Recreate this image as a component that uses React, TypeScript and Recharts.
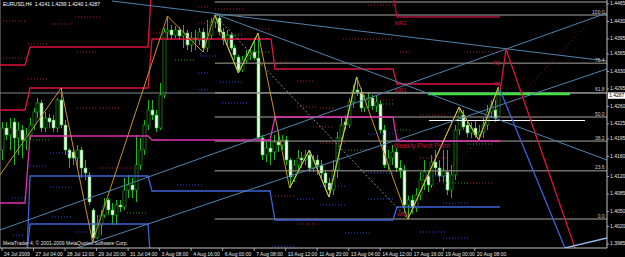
import React from 'react';
import { ComposedChart, Bar, Line, XAxis, YAxis, ReferenceLine, ReferenceDot } from 'recharts';

const W = 625;
const H = 257;
const AXIS_W = 18;
const AXIS_H = 9;
const PLOT_R = W - AXIS_W;
const PLOT_B = H - AXIS_H;
const X_DOMAIN: [number, number] = [-0.51, 153.55];
const Y_DOMAIN: [number, number] = [1.3977, 1.4473];
const FONT = '"Liberation Sans", Arial, sans-serif';
const AXIS_COLOR = '#c4c4c4';
const TEXT = '#e6e6e6';
const GREEN = '#22b422';
const CRIMSON = '#dc143c';
const MAGENTA = '#e030b0';
const ROYAL = '#3f63d8';
const STEEL = '#4f84ad';
const FIBC = '#a9a59b';

// ---- H4 candles (EURUSD) ----
const opens = [
  1.4173, 1.4217, 1.4203, 1.4229, 1.4197, 1.4213, 1.4193, 1.4203, 1.4223, 1.4249,
  1.4267, 1.4217, 1.4237, 1.4233, 1.4217, 1.4273, 1.4223, 1.4173, 1.4169, 1.4157,
  1.4173, 1.4137, 1.4123, 1.4053, 1.3997, 1.4023, 1.4043, 1.4073, 1.4053, 1.4043,
  1.4063, 1.4059, 1.4093, 1.4103, 1.4093, 1.4143, 1.4173, 1.4223, 1.4253, 1.4243,
  1.4217, 1.4283, 1.4409, 1.4413, 1.4403, 1.4413, 1.4401, 1.4407, 1.4383, 1.4397,
  1.4393, 1.4409, 1.4377, 1.4403, 1.4429, 1.4437, 1.4409, 1.4393, 1.4403, 1.4377,
  1.4359, 1.4333, 1.4353, 1.4363, 1.4369, 1.4357, 1.4197, 1.4163, 1.4177, 1.4169,
  1.4189, 1.4183, 1.4193, 1.4153, 1.4119, 1.4143, 1.4157, 1.4153, 1.4163, 1.4137,
  1.4153, 1.4143, 1.4127, 1.4107, 1.4093, 1.4133, 1.4197, 1.4229, 1.4223, 1.4269,
  1.4293, 1.4289, 1.4257, 1.4273, 1.4277, 1.4261, 1.4265, 1.4213, 1.4143, 1.4157,
  1.4169, 1.4137, 1.4133, 1.4063, 1.4073, 1.4057, 1.4083, 1.4113, 1.4121, 1.4103,
  1.4149, 1.4137, 1.4121, 1.4129, 1.4093, 1.4123, 1.4213, 1.4243, 1.4223, 1.4207,
  1.4217, 1.4203, 1.4209, 1.4223, 1.4249, 1.4253, 1.4241,
];
const highs = [
  1.4229, 1.4229, 1.4237, 1.4237, 1.4229, 1.4223, 1.4217, 1.4237, 1.4257, 1.4277,
  1.4273, 1.4249, 1.4245, 1.4243, 1.4277, 1.4297, 1.4233, 1.4177, 1.4177, 1.4183,
  1.4179, 1.4153, 1.4129, 1.4057, 1.4043, 1.4053, 1.4077, 1.4077, 1.4067, 1.4073,
  1.4073, 1.4117, 1.4123, 1.4117, 1.4203, 1.4197, 1.4233, 1.4273, 1.4273, 1.4253,
  1.4307, 1.4417, 1.4441, 1.4423, 1.4421, 1.4419, 1.4423, 1.4413, 1.4409, 1.4413,
  1.4417, 1.4417, 1.4433, 1.4437, 1.4443, 1.4441, 1.4417, 1.4413, 1.4407, 1.4383,
  1.4363, 1.4361, 1.4373, 1.4377, 1.4393, 1.4407, 1.4203, 1.4189, 1.4193, 1.4203,
  1.4209, 1.4203, 1.4201, 1.4157, 1.4153, 1.4173, 1.4169, 1.4173, 1.4173, 1.4163,
  1.4163, 1.4153, 1.4133, 1.4117, 1.4153, 1.4209, 1.4237, 1.4243, 1.4277, 1.4303,
  1.4319, 1.4297, 1.4283, 1.4289, 1.4283, 1.4281, 1.4273, 1.4223, 1.4173, 1.4183,
  1.4177, 1.4153, 1.4143, 1.4081, 1.4083, 1.4097, 1.4129, 1.4153, 1.4133, 1.4163,
  1.4173, 1.4153, 1.4173, 1.4173, 1.4143, 1.4223, 1.4259, 1.4253, 1.4233, 1.4229,
  1.4233, 1.4223, 1.4237, 1.4263, 1.4273, 1.4273, 1.4299,
];
const lows = [
  1.4153, 1.4193, 1.4173, 1.4143, 1.4163, 1.4157, 1.4173, 1.4193, 1.4213, 1.4237,
  1.4209, 1.4209, 1.4217, 1.4209, 1.4209, 1.4217, 1.4163, 1.4137, 1.4143, 1.4133,
  1.4117, 1.4113, 1.4063, 1.3989, 1.3995, 1.4003, 1.4037, 1.4043, 1.4023, 1.4023,
  1.4049, 1.4053, 1.4077, 1.4077, 1.4069, 1.4133, 1.4163, 1.4213, 1.4233, 1.4209,
  1.4213, 1.4277, 1.4393, 1.4393, 1.4397, 1.4393, 1.4377, 1.4373, 1.4369, 1.4373,
  1.4383, 1.4369, 1.4369, 1.4393, 1.4417, 1.4403, 1.4383, 1.4383, 1.4373, 1.4353,
  1.4327, 1.4329, 1.4347, 1.4353, 1.4353, 1.4193, 1.4153, 1.4149, 1.4143, 1.4153,
  1.4169, 1.4173, 1.4143, 1.4097, 1.4109, 1.4133, 1.4137, 1.4143, 1.4129, 1.4129,
  1.4123, 1.4117, 1.4093, 1.4079, 1.4083, 1.4117, 1.4193, 1.4213, 1.4217, 1.4257,
  1.4281, 1.4249, 1.4249, 1.4257, 1.4253, 1.4249, 1.4207, 1.4137, 1.4133, 1.4143,
  1.4129, 1.4117, 1.4047, 1.4035, 1.4045, 1.4049, 1.4073, 1.4093, 1.4089, 1.4097,
  1.4123, 1.4109, 1.4109, 1.4083, 1.4077, 1.4113, 1.4203, 1.4213, 1.4199, 1.4197,
  1.4197, 1.4193, 1.4197, 1.4213, 1.4237, 1.4229, 1.4240,
];
const closes = [
  1.4217, 1.4203, 1.4217, 1.4197, 1.4213, 1.4193, 1.4203, 1.4223, 1.4249, 1.4267,
  1.4217, 1.4237, 1.4229, 1.4217, 1.4273, 1.4223, 1.4173, 1.4157, 1.4157, 1.4173,
  1.4137, 1.4127, 1.4069, 1.3997, 1.4023, 1.4043, 1.4063, 1.4053, 1.4043, 1.4063,
  1.4059, 1.4093, 1.4103, 1.4093, 1.4143, 1.4173, 1.4223, 1.4253, 1.4243, 1.4217,
  1.4283, 1.4409, 1.4413, 1.4403, 1.4413, 1.4401, 1.4407, 1.4383, 1.4397, 1.4393,
  1.4409, 1.4377, 1.4403, 1.4429, 1.4437, 1.4409, 1.4393, 1.4403, 1.4377, 1.4363,
  1.4333, 1.4353, 1.4363, 1.4369, 1.4357, 1.4197, 1.4163, 1.4177, 1.4169, 1.4189,
  1.4183, 1.4193, 1.4153, 1.4119, 1.4143, 1.4157, 1.4153, 1.4163, 1.4137, 1.4153,
  1.4143, 1.4127, 1.4107, 1.4093, 1.4133, 1.4197, 1.4223, 1.4223, 1.4269, 1.4293,
  1.4289, 1.4257, 1.4273, 1.4277, 1.4261, 1.4269, 1.4213, 1.4143, 1.4157, 1.4169,
  1.4137, 1.4133, 1.4063, 1.4073, 1.4057, 1.4083, 1.4113, 1.4129, 1.4103, 1.4149,
  1.4137, 1.4121, 1.4133, 1.4093, 1.4123, 1.4213, 1.4249, 1.4219, 1.4207, 1.4217,
  1.4203, 1.4209, 1.4223, 1.4249, 1.4263, 1.4237, 1.4287,
];

// ---- axes ----
const xTickBars = [0, 8, 16, 24, 32, 40, 48, 56, 64, 72, 80, 88, 96, 104, 112, 120];
const xTickLabels = [
  '24 Jul 2009', '27 Jul 04:00', '28 Jul 12:00', '29 Jul 20:00', '31 Jul 04:00', '3 Aug 08:00',
  '4 Aug 16:00', '6 Aug 00:00', '7 Aug 08:00', '10 Aug 12:00', '11 Aug 20:00', '13 Aug 04:00',
  '14 Aug 12:00', '17 Aug 16:00', '19 Aug 00:00', '20 Aug 08:00',
];
const yTickValues = [
  1.4465, 1.443, 1.4395, 1.4365, 1.433, 1.4295, 1.426, 1.4225, 1.4195, 1.416, 1.412, 1.4085, 1.405, 1.402, 1.3985,
];
const bidPrice = 1.4287;

// ---- zigzag ----
const zigzagBars = [-0.5, 15, 23, 42, 51, 54, 60, 65, 73, 78, 83, 90, 103, 116, 121, 126];
const zigzagPrices = [1.4123, 1.4297, 1.3989, 1.4441, 1.4369, 1.4443, 1.4327, 1.4407, 1.4097, 1.4173, 1.4079, 1.4319, 1.4035, 1.4259, 1.4193, 1.4299];
const minorZig1Bars = [54, 60, 65];
const minorZig1Prices = [1.4443, 1.4327, 1.4407];
const minorZig2Bars = [73, 78, 83, 90];
const minorZig2Prices = [1.4097, 1.4173, 1.4079, 1.4319];
const minorZig3Bars = [103, 116, 121, 126];
const minorZig3Prices = [1.4035, 1.4259, 1.4193, 1.4299];

// ---- fibonacci ----
const fibStartBar = 54;
const fibEndBar = 103;
const fibHigh = 1.4443;
const fibLow = 1.4035;
const fibRatios = [0, 23.6, 38.2, 50, 61.8, 76.4, 100];
const fibLabels = ['0.0', '23.6', '38.2', '50.0', '61.8', '76.4', '100.0'];
const topLevelPrice = 1.4469;

// ---- weekly pivot step lines ----
const wr2aBars = [-0.51, 5.84, 7.11, 37.06, 37.82];
const wr2aPrices = [1.4343, 1.4343, 1.4379, 1.4379, 1.4483];
const wr2bBars = [99.24, 100.25, 126.4];
const wr2bPrices = [1.4483, 1.4439, 1.4439];
const wr1Bars = [-0.51, 5.84, 7.11, 37.06, 38.07, 68.27, 69.29, 99.24, 100.25, 126.4];
const wr1Prices = [1.4253, 1.4253, 1.4297, 1.4297, 1.4395, 1.4395, 1.4335, 1.4335, 1.4305, 1.4305];
const wpBars = [-0.51, 5.84, 7.11, 37.06, 38.07, 68.02, 69.29, 99.24, 100.25, 126.4];
const wpPrices = [1.4067, 1.4067, 1.4201, 1.4201, 1.4193, 1.4193, 1.4239, 1.4239, 1.4191, 1.4191];
const ws1Bars = [6.35, 7.11, 37.06, 38.07, 68.02, 69.29, 99.24, 100.25, 126.4];
const ws1Prices = [1.3969, 1.4121, 1.4121, 1.4091, 1.4091, 1.4033, 1.4033, 1.4059, 1.4059];
const ws2Bars = [6.35, 7.11, 37.06, 37.56];
const ws2Prices = [1.3969, 1.4025, 1.4025, 1.3969];

// ---- trend lines & projections ----
const trendABars = [27.92, 153.55];
const trendAPrices = [1.4471, 1.4351];
const trendBBars = [54.06, 153.55];
const trendBPrices = [1.4445, 1.4153];
const chanUpBars = [-0.51, 153.55];
const chanUpPrices = [1.4013, 1.4447];
const chanLoBars = [19.04, 153.55];
const chanLoPrices = [1.3977, 1.4335];
const projRedBars = [126.4, 127.92, 145.43];
const projRedPrices = [1.4289, 1.4375, 1.3977];
const projBlueBars = [126.4, 142.89];
const projBluePrices = [1.4293, 1.3977];
const projBaseBars = [142.89, 153.55];
const projBasePrices = [1.3977, 1.3997];
const dotTrendBars = [103.55, 153.05];
const dotTrendPrices = [1.4047, 1.4463];
const greenLevel = { from: 108.12, to: 144.16, price: 1.4285 };
const whiteLevel = { from: 108.38, to: 147.97, price: 1.4232 };

// ---- daily pivot dotted segments [fromBar, toBar, price] ----
const redPivots = [
  [0.25, 5.84, 1.4431], [12.69, 18.02, 1.4425], [18.53, 24.87, 1.4439], [6.6, 11.68, 1.4385],
  [19.04, 24.11, 1.4369], [0.25, 5.84, 1.4357], [6.6, 11.68, 1.4315], [19.04, 24.11, 1.4257],
  [24.87, 29.95, 1.4257], [24.87, 35.03, 1.4137], [37.56, 42.64, 1.4407], [49.75, 52.79, 1.4459],
  [49.75, 52.79, 1.4427], [54.06, 61.17, 1.4455], [62.94, 68.02, 1.4415], [86.55, 99.24, 1.4395],
  [70.56, 73.86, 1.4349], [74.87, 78.93, 1.4311], [74.87, 79.95, 1.4259], [80.71, 84.01, 1.4257],
  [92.89, 99.24, 1.4273], [78.93, 84.01, 1.4219], [80.71, 87.06, 1.4187], [69.29, 74.37, 1.4081],
  [74.87, 80.71, 1.4025], [106.09, 112.44, 1.4157], [106.09, 112.44, 1.4243], [118.02, 124.62, 1.4369],
  [101.02, 103.55, 1.4369], [118.02, 124.62, 1.4107], [92.89, 99.75, 1.4463],
];
const bluePivots = [
  [49.75, 52.79, 1.4327], [49.75, 52.79, 1.4293], [50.25, 54.57, 1.4361], [55.33, 61.17, 1.4309],
  [55.84, 62.18, 1.4267], [92.89, 99.24, 1.4205], [80.71, 87.06, 1.4101], [74.87, 79.44, 1.4075],
  [80.71, 87.06, 1.4063], [87.06, 93.4, 1.4007], [68.53, 74.37, 1.3981], [92.89, 99.24, 1.4075],
  [92.89, 99.24, 1.4127], [106.09, 112.44, 1.4121], [106.09, 112.44, 1.4009], [111.93, 118.27, 1.4067],
  [111.93, 118.27, 1.3997], [12.18, 18.02, 1.4167], [6.35, 11.68, 1.4141], [12.18, 18.02, 1.4099],
  [18.53, 23.6, 1.4009], [2.54, 5.84, 1.4077], [2.79, 5.33, 1.4003], [12.69, 18.02, 1.4039],
  [44.42, 51.02, 1.4103],
];
const greenPivots = [
  [43.91, 48.98, 1.4353], [55.33, 61.17, 1.4403], [62.94, 68.02, 1.4369], [92.89, 99.24, 1.4265],
  [87.06, 93.4, 1.4173], [100.25, 103.55, 1.4213], [118.02, 124.62, 1.4185], [111.93, 118.27, 1.4107],
  [7.87, 12.18, 1.4193], [38.07, 42.64, 1.4193], [31.73, 36.8, 1.4047],
];

// ---- text annotations [bar, price, text] ----
const weeklyLabels = [
  [99.6, 1.4427, 'WR2'], [99.6, 1.4293, 'WR1'], [99.3, 1.4181, 'Weekly Pivot Point'], [100.2, 1.4045, 'WS1'],
  [124.6, 1.4347, 'R2'], [124.8, 1.4305, 'R1'],
];

const candles = opens.map((o, i) => ({ b: i, o, h: highs[i], l: lows[i], c: closes[i], range: [lows[i], highs[i]] }));
const pts = (bs: number[], ps: number[]) => bs.map((b, i) => ({ b, p: ps[i] }));
const last = opens.length - 1;

const Candle = (props: any) => {
  const { x, y, width, height, payload } = props;
  if (!payload || x == null) return null;
  const { o, h, l, c } = payload;
  const cx = Math.round(x + width / 2) + 0.5;
  const top = Math.min(y, y + height);
  const hh = Math.abs(height);
  const k = hh / (h - l || 1);
  const yo = top + (h - o) * k;
  const yc = top + (h - c) * k;
  const bTop = Math.min(yo, yc);
  const bH = Math.max(Math.abs(yo - yc), 1);
  const bull = c >= o;
  return (
    <g>
      <line x1={cx} x2={cx} y1={top} y2={top + hh} stroke={GREEN} strokeWidth={1} />
      <rect x={cx - 1.5} y={bTop} width={3} height={bH} fill={bull ? '#000' : '#f2fff2'} stroke={GREEN} strokeWidth={0.6} />
    </g>
  );
};

const XTick = (props: any) => {
  const { x, payload } = props;
  const idx = xTickBars.indexOf(payload.value);
  return (
    <g>
      <line x1={x} x2={x} y1={PLOT_B} y2={PLOT_B + 3} stroke={AXIS_COLOR} strokeWidth={0.8} />
      <text x={x + 2} y={PLOT_B + 7.6} fill={TEXT} fontSize={5} fontFamily={FONT}>
        {xTickLabels[idx]}
      </text>
    </g>
  );
};

const YTick = (props: any) => {
  const { y, payload } = props;
  return (
    <g>
      <line x1={PLOT_R} x2={PLOT_R + 2} y1={y} y2={y} stroke={AXIS_COLOR} strokeWidth={0.8} />
      <text x={PLOT_R + 3} y={y + 1.2} fill={TEXT} fontSize={5} fontFamily={FONT}>
        {payload.value.toFixed(4)}
      </text>
    </g>
  );
};

const seg = (arr: number[][], color: string, key: string) =>
  arr.map((s, i) => (
    <ReferenceLine
      key={key + i}
      segment={[{ x: s[0], y: s[2] }, { x: s[1], y: s[2] }]}
      stroke={color}
      strokeWidth={1}
      strokeDasharray="1 2"
      ifOverflow="visible"
    />
  ));

const poly = (bs: number[], ps: number[], color: string, key: string, width = 1, dash?: string) => (
  <Line
    key={key}
    data={pts(bs, ps)}
    dataKey="p"
    type="linear"
    stroke={color}
    strokeWidth={width}
    strokeDasharray={dash}
    dot={false}
    activeDot={false}
    isAnimationActive={false}
    legendType="none"
  />
);

export default function App() {
  const fibPrice = (r: number) => fibLow + (r / 100) * (fibHigh - fibLow);
  return (
    <div style={{ position: 'absolute', left: 0, top: 0, width: W, height: H, background: '#000', overflow: 'hidden' }}>
      <ComposedChart width={W} height={H} data={candles} margin={{ top: 0, right: 0, bottom: 0, left: 0 }}>
        <XAxis
          type="number"
          dataKey="b"
          domain={X_DOMAIN}
          allowDataOverflow
          ticks={xTickBars}
          interval={0}
          height={AXIS_H}
          axisLine={{ stroke: AXIS_COLOR }}
          tickLine={false}
          tick={(p: any) => <XTick {...p} />}
        />
        <YAxis
          type="number"
          orientation="right"
          domain={Y_DOMAIN}
          allowDataOverflow
          ticks={yTickValues}
          interval={0}
          width={AXIS_W}
          axisLine={{ stroke: AXIS_COLOR }}
          tickLine={false}
          tick={(p: any) => <YTick {...p} />}
        />
        <ReferenceLine x={X_DOMAIN[0]} stroke="#8a8a8a" ifOverflow="visible" />
        <ReferenceLine y={bidPrice} stroke="#7d8891" strokeWidth={1} ifOverflow="visible" />
        <ReferenceLine segment={[{ x: fibStartBar, y: topLevelPrice }, { x: X_DOMAIN[1], y: topLevelPrice }]} stroke={FIBC} ifOverflow="visible" />
        {fibRatios.map((r) => (
          <ReferenceLine
            key={'fib' + r}
            segment={[{ x: fibStartBar, y: fibPrice(r) }, { x: X_DOMAIN[1], y: fibPrice(r) }]}
            stroke={FIBC}
            strokeWidth={1}
            ifOverflow="visible"
          />
        ))}
        {seg(redPivots, '#b01c2c', 'rp')}
        {seg(bluePivots, '#2a44e6', 'bp')}
        {seg(greenPivots, '#1e9e1e', 'gp')}
        {poly(wr2aBars, wr2aPrices, CRIMSON, 'wr2a', 1.3)}
        {poly(wr2bBars, wr2bPrices, '#b0103c', 'wr2b', 1.3)}
        {poly(wr1Bars, wr1Prices, CRIMSON, 'wr1', 1.3)}
        {poly(wpBars, wpPrices, MAGENTA, 'wp', 1.3)}
        {poly(ws1Bars, ws1Prices, ROYAL, 'ws1', 1.3)}
        {poly(ws2Bars, ws2Prices, ROYAL, 'ws2', 1.3)}
        <Bar dataKey="range" barSize={3} isAnimationActive={false} shape={(p: any) => <Candle {...p} />} />
        <ReferenceLine segment={[{ x: greenLevel.from, y: greenLevel.price }, { x: greenLevel.to, y: greenLevel.price }]} stroke="#3de43d" strokeWidth={2.5} ifOverflow="visible" />
        <ReferenceLine segment={[{ x: whiteLevel.from, y: whiteLevel.price }, { x: whiteLevel.to, y: whiteLevel.price }]} stroke="#ffffff" strokeWidth={1.2} ifOverflow="visible" />
        {poly(zigzagBars, zigzagPrices, '#c8922c', 'zz', 1)}
        {poly(minorZig1Bars, minorZig1Prices, '#b8d048', 'mz1', 1)}
        {poly(minorZig2Bars, minorZig2Prices, '#b8d048', 'mz2', 1)}
        {poly(minorZig3Bars, minorZig3Prices, '#c8c040', 'mz3', 1)}
        {poly([fibStartBar, fibEndBar], [fibHigh, fibLow], '#8c8c8c', 'fibbase', 1, '2 2')}
        {poly(trendABars, trendAPrices, STEEL, 'ta', 1)}
        {poly(trendBBars, trendBPrices, STEEL, 'tb', 1)}
        {poly(chanUpBars, chanUpPrices, STEEL, 'cu', 1)}
        {poly(chanLoBars, chanLoPrices, STEEL, 'cl', 1)}
        {poly(dotTrendBars, dotTrendPrices, '#a01030', 'dt', 1, '1 3')}
        {poly(projRedBars, projRedPrices, CRIMSON, 'pr', 1.3)}
        {poly(projBlueBars, projBluePrices, ROYAL, 'pb', 1.3)}
        {poly(projBaseBars, projBasePrices, '#8cbce8', 'pbase', 1.3)}
        {fibRatios.map((r, i) => (
          <ReferenceDot
            key={'fl' + r}
            x={153.2}
            y={fibPrice(r)}
            r={1}
            ifOverflow="visible"
            shape={(p: any) => (
              <text x={p.cx - 1} y={p.cy - 1.5} textAnchor="end" fill="#c8c8c8" fontSize={5} fontFamily={FONT}>
                {fibLabels[i]}
              </text>
            )}
          />
        ))}
        {weeklyLabels.map((w, i) => (
          <ReferenceDot
            key={'wl' + i}
            x={w[0] as number}
            y={w[1] as number}
            r={1}
            ifOverflow="visible"
            shape={(p: any) => (
              <text
                x={p.cx}
                y={p.cy + 2}
                fill="#c4143c"
                fontSize={i === 2 ? 6.8 : 5.5}
                fontFamily={FONT}
              >
                {w[2] as string}
              </text>
            )}
          />
        ))}
        <ReferenceDot
          x={X_DOMAIN[1]}
          y={bidPrice}
          r={1}
          ifOverflow="visible"
          shape={(p: any) => (
            <g>
              <rect x={p.cx + 1} y={p.cy - 0.6} width={17} height={6.4} fill="#ffffff" />
              <text x={p.cx + 2} y={p.cy + 4.2} fill="#000" fontSize={5} fontFamily={FONT}>
                {bidPrice.toFixed(4)}
              </text>
            </g>
          )}
        />
      </ComposedChart>
      <div style={{ position: 'absolute', left: 3, top: 1, color: '#ffffff', fontSize: 5, fontFamily: FONT, whiteSpace: 'pre', lineHeight: '7px' }}>
        {`EURUSD,H4  ${opens[last].toFixed(4)} ${highs[last].toFixed(4)} ${lows[last].toFixed(4)} ${closes[last].toFixed(4)}`}
      </div>
      <div style={{ position: 'absolute', left: 3, top: 240, color: '#e0e0e0', fontSize: 5, fontFamily: FONT, whiteSpace: 'pre', lineHeight: '7px' }}>
        MetaTrader 4, © 2001-2009 MetaQuotes Software Corp.
      </div>
    </div>
  );
}
